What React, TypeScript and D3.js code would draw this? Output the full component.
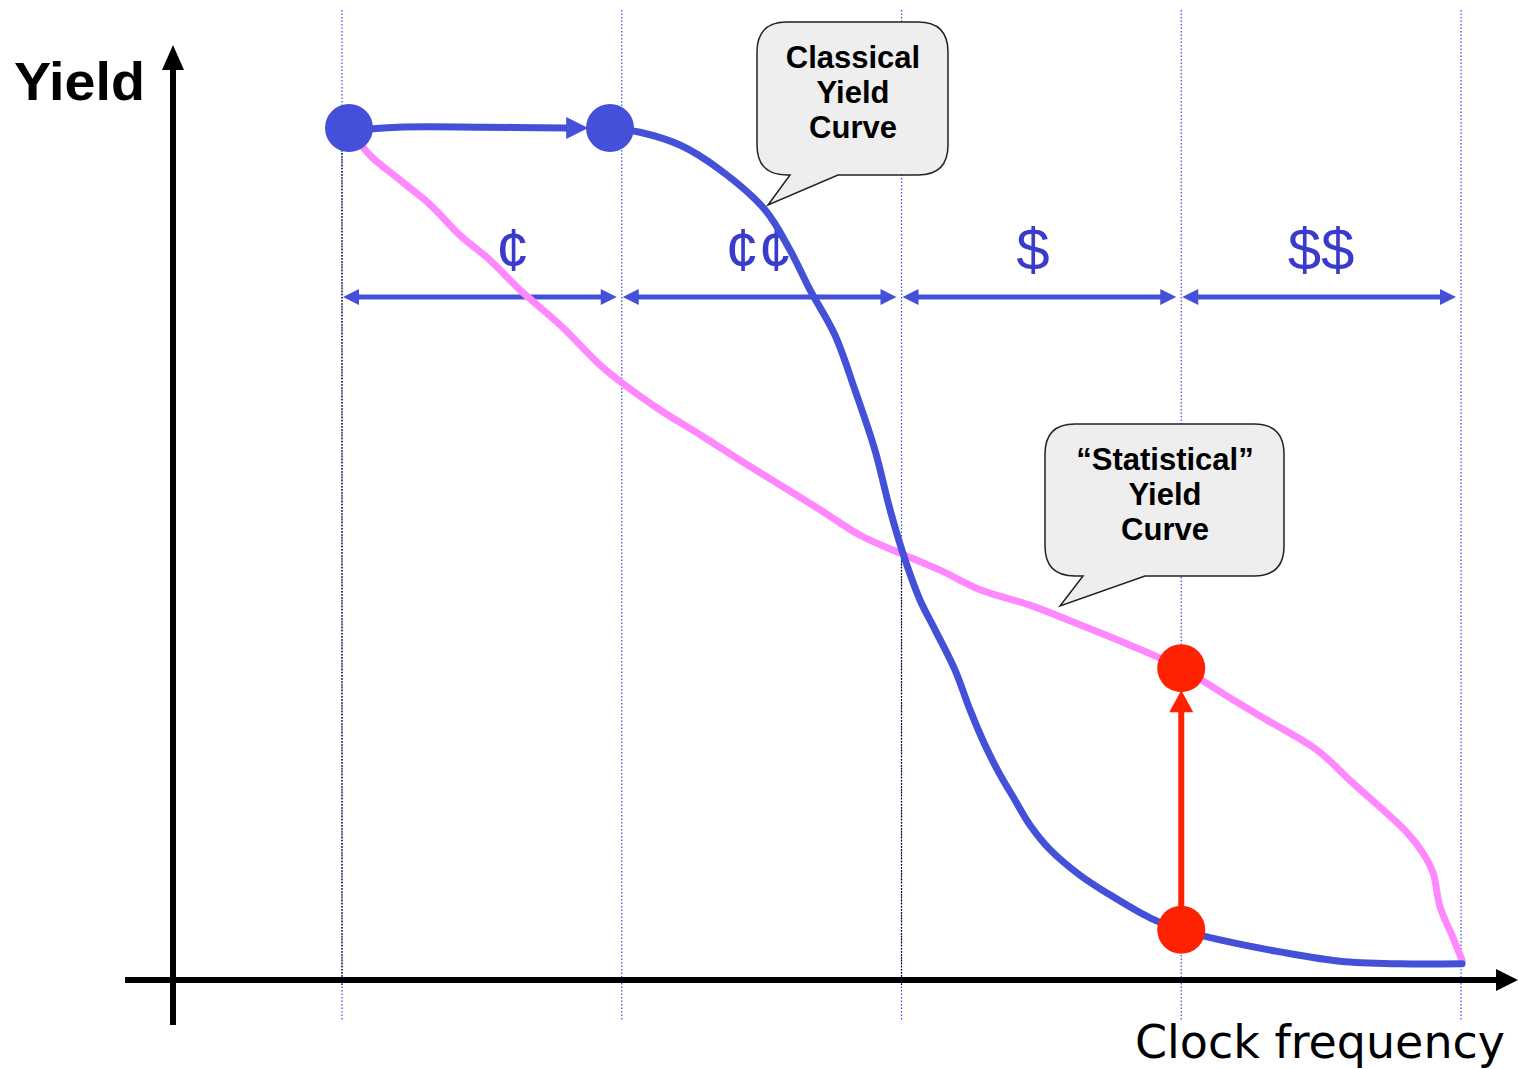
import React from "react";
import * as d3 from "d3";

const W = 1518;
const H = 1069;

// Frequency band boundaries (x units) and labels
const boundaries = [0, 1, 2, 3, 4];
const bandLabels = ["¢", "¢¢", "$", "$$"];
const bandLabelPos = [0.61, 1.49, 2.47, 3.5];

// Classical yield curve (frequency, yield %)
const classicalTop: [number, number][] = [
  [0.025, 99.7], [0.2, 100.1], [0.5, 100.1], [0.8, 100.0], [0.88, 100.0],
];
const classical: [number, number][] = [
  [0.958, 100], [1.065, 99.5], [1.208, 98.0], [1.351, 95.1], [1.512, 90.4],
  [1.601, 85.7], [1.673, 81.0], [1.762, 75.7], [1.834, 69.2], [1.905, 62.2],
  [1.959, 55.2], [2.013, 49.3], [2.066, 44.6], [2.12, 41.1], [2.191, 36.4],
  [2.245, 31.7], [2.298, 27.6], [2.352, 24.1], [2.406, 21.1], [2.459, 18.2],
  [2.531, 15.3], [2.638, 12.3], [2.745, 10.0], [2.888, 7.3], [2.999, 5.9],
  [3.139, 4.7], [3.353, 3.3], [3.568, 2.2], [3.782, 1.9], [4.004, 1.9],
];

// Statistical yield curve
const statistical: [number, number][] = [
  [0.025, 100], [0.1, 96.8], [0.207, 93.9], [0.315, 91.0], [0.422, 87.4],
  [0.529, 84.5], [0.636, 81.0], [0.779, 76.9], [0.922, 72.2], [1.012, 69.8],
  [1.137, 66.9], [1.28, 64.0], [1.423, 61.0], [1.566, 58.1], [1.709, 55.2],
  [1.852, 52.2], [1.995, 50.1], [2.138, 48.1], [2.281, 45.8], [2.459, 44.0],
  [2.638, 41.7], [2.817, 39.3], [2.999, 36.6], [3.185, 32.9], [3.307, 30.5],
  [3.485, 27.0], [3.614, 23.1], [3.807, 17.3], [3.864, 14.9], [3.9, 12.6],
  [3.925, 8.6], [3.971, 5.0], [4.004, 2.3],
];

const blueDots: [number, number][] = [[0.025, 100], [0.958, 100]];
const redDots: [number, number][] = [[3.0, 36.6], [3.0, 5.9]];

const BLUE = "#4450D8";
const PINK = "#FF88FF";
const RED = "#FF2200";
const LABEL_BLUE = "#3A3ACC";

export default function App() {
  const x = d3.scaleLinear().domain([0, 4]).range([342, 1461]);
  const y = d3.scaleLinear().domain([0, 100]).range([980, 128]);

  const line = d3
    .line<[number, number]>()
    .x((d) => x(d[0]))
    .y((d) => y(d[1]))
    .curve(d3.curveCatmullRom.alpha(0.5));

  const axisX0 = 173;
  const axisY0 = y(0);

  // double-headed arrows
  const arrowY = 297;
  const dArrows = boundaries.slice(0, -1).map((b, i) => {
    const x1 = x(b) + 1;
    const x2 = x(boundaries[i + 1]) - 5;
    return { x1, x2 };
  });

  const topTipX = x(classicalTop[classicalTop.length - 1][0]);
  const topY = y(100);

  const redTop = y(redDots[0][1]);
  const redBot = y(redDots[1][1]);
  const rx = x(redDots[0][0]);

  return (
    <svg
      width={W}
      height={H}
      style={{ position: "absolute", left: 0, top: 0, background: "#fff" }}
      fontFamily="'Liberation Sans', Arial, sans-serif"
    >
      {/* dotted vertical guide lines */}
      {boundaries.map((b) => (
        <line
          key={b}
          x1={x(b)}
          x2={x(b)}
          y1={10}
          y2={1020}
          stroke="#3344ee"
          strokeWidth={1.2}
          strokeDasharray="1.5,2"
        />
      ))}
      <line x1={x(0)} x2={x(0)} y1={150} y2={985} stroke="#000" strokeWidth={1.2} strokeDasharray="1.5,1.5" />
      <line x1={x(2)} x2={x(2)} y1={555} y2={985} stroke="#000" strokeWidth={1.2} strokeDasharray="1.5,1.5" />

      {/* axes */}
      <line x1={125} x2={1500} y1={axisY0} y2={axisY0} stroke="#000" strokeWidth={6} />
      <polygon points={`1518,${axisY0} 1496,${axisY0 - 11} 1496,${axisY0 + 11}`} fill="#000" />
      <line x1={axisX0} x2={axisX0} y1={1025} y2={65} stroke="#000" strokeWidth={6} />
      <polygon points={`${axisX0},45 ${axisX0 - 11},70 ${axisX0 + 11},70`} fill="#000" />

      <text x={14} y={100} fontSize={54} fontWeight="bold" fill="#000" textLength={131} lengthAdjust="spacingAndGlyphs">
        Yield
      </text>
      <text
        x={1505}
        y={1058}
        fontSize={47}
        textAnchor="end"
        fontFamily="'DejaVu Sans', Verdana, sans-serif"
        fill="#000"
        textLength={370}
        lengthAdjust="spacingAndGlyphs"
      >
        Clock frequency
      </text>

      {/* band arrows */}
      {dArrows.map((a, i) => (
        <g key={i}>
          <line x1={a.x1 + 10} x2={a.x2 - 10} y1={arrowY} y2={arrowY} stroke={BLUE} strokeWidth={5} />
          <polygon
            points={`${a.x1},${arrowY} ${a.x1 + 16},${arrowY - 8} ${a.x1 + 16},${arrowY + 8}`}
            fill={BLUE}
          />
          <polygon
            points={`${a.x2},${arrowY} ${a.x2 - 16},${arrowY - 8} ${a.x2 - 16},${arrowY + 8}`}
            fill={BLUE}
          />
        </g>
      ))}
      {bandLabels.map((l, i) => (
        <text
          key={l}
          x={x(bandLabelPos[i])}
          y={270}
          fontSize={60}
          textAnchor="middle"
          fill={LABEL_BLUE}
        >
          {l}
        </text>
      ))}

      {/* statistical curve */}
      <path d={line(statistical) || ""} fill="none" stroke={PINK} strokeWidth={7} strokeLinejoin="round" strokeLinecap="round" />
      {/* classical curve */}
      <path d={line(classical) || ""} fill="none" stroke={BLUE} strokeWidth={7} strokeLinejoin="round" strokeLinecap="round" />
      <path d={line(classicalTop.slice(0, -1).concat([[classicalTop[classicalTop.length - 1][0] - 0.06, 100]])) || ""} fill="none" stroke={BLUE} strokeWidth={7} />
      <polygon
        points={`${topTipX},${topY} ${topTipX - 22},${topY - 11} ${topTipX - 22},${topY + 11}`}
        fill={BLUE}
      />

      {blueDots.map((d, i) => (
        <circle key={i} cx={x(d[0])} cy={y(d[1])} r={24} fill={BLUE} />
      ))}

      {/* red improvement arrow */}
      <line x1={rx} x2={rx} y1={redBot} y2={redTop + 40} stroke={RED} strokeWidth={6} />
      <polygon points={`${rx},${redTop + 22} ${rx - 12},${redTop + 44} ${rx + 12},${redTop + 44}`} fill={RED} />
      {redDots.map((d, i) => (
        <circle key={i} cx={x(d[0])} cy={y(d[1])} r={24} fill={RED} />
      ))}

      {/* callout 1 */}
      <path
        d="M787,22 H918 Q948,22 948,52 V145 Q948,175 918,175 H838 L768,205 L790,175 H787 Q757,175 757,145 V52 Q757,22 787,22 Z"
        fill="#EEEEEE"
        stroke="#222"
        strokeWidth={1.5}
      />
      {["Classical", "Yield", "Curve"].map((t, i) => (
        <text key={t} x={853} y={68 + i * 35} fontSize={31} fontWeight="bold" textAnchor="middle" fill="#000">
          {t}
        </text>
      ))}

      {/* callout 2 */}
      <path
        d="M1075,424 H1254 Q1284,424 1284,454 V546 Q1284,576 1254,576 H1145 L1060,606 L1083,576 H1075 Q1045,576 1045,546 V454 Q1045,424 1075,424 Z"
        fill="#EEEEEE"
        stroke="#222"
        strokeWidth={1.5}
      />
      {["\u201CStatistical\u201D", "Yield", "Curve"].map((t, i) => (
        <text key={t} x={1165} y={470 + i * 35} fontSize={31} fontWeight="bold" textAnchor="middle" fill="#000">
          {t}
        </text>
      ))}
    </svg>
  );
}
